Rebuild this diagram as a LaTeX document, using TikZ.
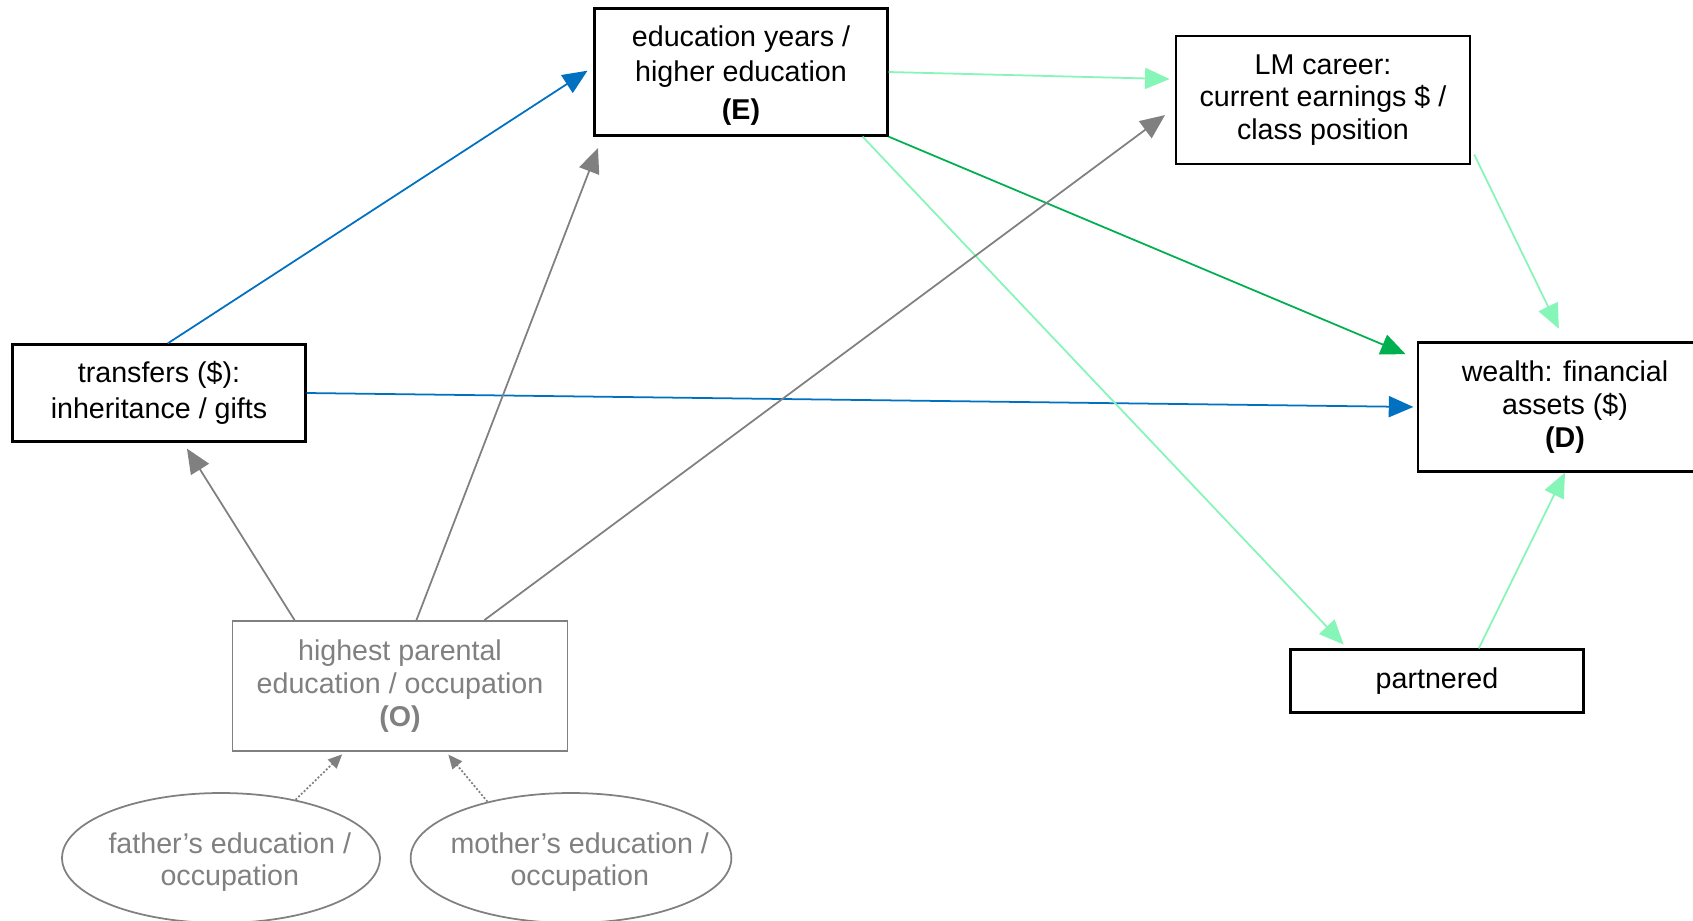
\documentclass[tikz,border=0pt]{standalone}
\usepackage{fontspec}
\setmainfont{Liberation Sans}
\usepackage{xcolor}
\usepackage{tikz}
\usetikzlibrary{positioning,arrows.meta,shapes.geometric}
\definecolor{bluec}{RGB}{0,112,192}
\definecolor{dgreen}{RGB}{0,176,80}
\definecolor{lgreen}{RGB}{134,245,184}
\definecolor{grayc}{RGB}{128,128,128}

\begin{document}
\begin{tikzpicture}[x=0.02cm,y=-0.02cm,font=\fontsize{16.3}{18.7}\selectfont]
  \tikzstyle{bx}=[draw,line width=1.3pt,inner sep=0pt,align=center,minimum width=5.86cm,minimum height=2.54cm]
  \tikzstyle{gbx}=[bx,draw=grayc,text=grayc,line width=1pt]
  \tikzstyle{ov}=[ellipse,draw=grayc,text=grayc,line width=1pt,inner xsep=-14pt,inner ysep=0pt,align=center,minimum width=6.36cm,minimum height=2.6cm]
  \tikzstyle{arr}=[-{Triangle[length=14pt,width=12pt]},line width=1pt]
  \tikzstyle{dot}=[-{Triangle[length=8pt,width=7pt]},line width=1pt,grayc,dash pattern=on 1.1pt off 1.1pt]
  \clip (0,0) rectangle (1693,920);
  \node[bx] (E) at (741,72) {\rule{0pt}{16pt}education years /\\[1.2pt]higher education\\[3pt]\textbf{(E)}};
  \node[bx,minimum width=5.88cm,minimum height=2.56cm] (LM) at (1323,100) {LM career:\\current earnings \$ /\\class position};
  \node[bx,minimum height=1.94cm] (tr) at (159,393) {transfers (\$):\\[1.8pt]inheritance / gifts};
  \node[bx,minimum width=5.88cm,minimum height=2.58cm] (W) at (1565,407) {wealth: financial\\assets (\$)\\\textbf{(D)}};
  \node[bx,minimum height=1.26cm] (P) at (1437,681) {partnered};
  \node[gbx,minimum width=6.7cm,minimum height=2.6cm] (O) at (400,686) {highest parental\\education / occupation\\\textbf{(O)}};
  \node[ov] (fa) at (221,858) {\hspace*{10pt}\rule{0pt}{16.5pt}father’s education /\\\hspace*{10pt}occupation};
  \node[ov] (mo) at (571,858) {\hspace*{10pt}\rule{0pt}{16.5pt}mother’s education /\\\hspace*{10pt}occupation};
  \draw[arr,bluec,shorten >=4pt] (tr.80) -- (E.178);
  \draw[arr,bluec,shorten >=2pt] (tr.east) -- (W.west);
  \draw[arr,lgreen,shorten >=3pt] (E.east) -- (LM.172.6);
  \draw[arr,dgreen,shorten >=7pt] (E.south east) -- (W.162.6);
  \draw[arr,lgreen,shorten >=3pt] (E.-28.3) -- (P.160);
  \draw[arr,lgreen,shorten <=4pt,shorten >=8pt] (LM.-18.4) -- (W.north);
  \draw[arr,lgreen] (P.38) -- (W.south);
  \draw[arr,grayc,shorten >=4pt] (O.148) -- (tr.-64.6);
  \draw[arr,grayc,shorten >=7pt] (O.76) -- (E.205.7);
  \draw[arr,grayc,shorten >=7pt] (O.38.2) -- (LM.183.9);
  \draw[dot,shorten >=2pt] (fa.38) -- (O.230);
  \draw[dot,shorten >=2pt] (mo.146.3) -- (O.-55.6);
\end{tikzpicture}
\end{document}
